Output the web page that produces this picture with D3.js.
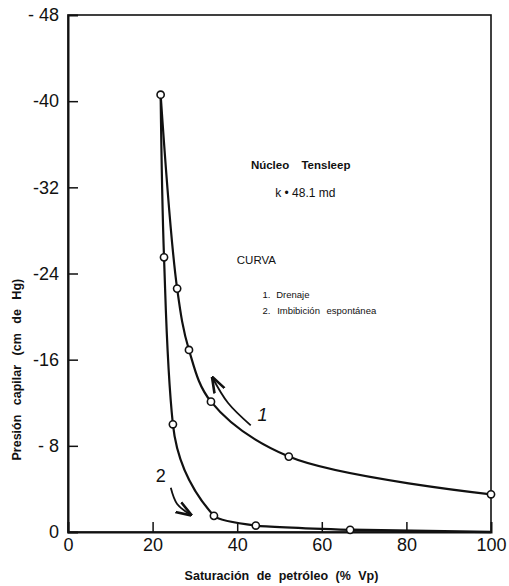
<!DOCTYPE html>
<html><head><meta charset="utf-8">
<script src="https://cdn.jsdelivr.net/npm/d3@7"></script>
<style>
html,body{margin:0;padding:0;background:#fff;}
svg text{font-family:"Liberation Sans",Arial,sans-serif;fill:#111;}
</style></head>
<body>
<svg id="c" width="509" height="586"></svg>
<script>
// Data
const drenajeSat = [21.9, 25.8, 28.6, 33.8, 52.2, 100];
const drenajePc  = [-40.6, -22.6, -16.9, -12.1, -7.0, -3.5];
const imbibSat = [21.9, 22.7, 24.8, 34.5, 44.4, 66.7];
const imbibPc  = [-40.6, -25.5, -10.0, -1.5, -0.6, -0.2];
// trailing part of curve 2 running along the axis (no marker)
const imbibTailSat = [66.7, 100];
const imbibTailPc  = [-0.2, 0];
const xTicks = [0, 20, 40, 60, 80, 100];
const xTickLabels = ["0", "20", "40", "60", "80", "100"];
const yTicks = [0, -8, -16, -24, -32, -40, -48];
const yTickLabels = ["0", "- 8", "-16", "-24", "-32", "-40", "- 48"];

const svg = d3.select("#c");
const x = d3.scaleLinear().domain([0, 100]).range([68, 491]);
const y = d3.scaleLinear().domain([0, -48]).range([532, 15]);

// frame
svg.append("rect").attr("x", x(0)).attr("y", y(-48))
  .attr("width", x(100) - x(0)).attr("height", y(0) - y(-48))
  .attr("fill", "none").attr("stroke", "#111").attr("stroke-width", 1.6);

// axes
const yAxis = d3.axisLeft(y).tickValues(yTicks)
  .tickFormat((d, i) => yTickLabels[i]).tickSize(-10).tickPadding(9);
const gy = svg.append("g").attr("transform", `translate(${x(0)},0)`).call(yAxis);
gy.select(".domain").attr("stroke", "#111").attr("stroke-width", 2);
gy.selectAll(".tick line").attr("stroke", "#111").attr("stroke-width", 1.5)
  .filter(d => d === 0 || d === -48).remove();
gy.selectAll(".tick text").style("font-size", "18px").attr("fill", "#111");

const xAxis = d3.axisBottom(x).tickValues(xTicks)
  .tickFormat((d, i) => xTickLabels[i]).tickSize(-10).tickPadding(6);
const gx = svg.append("g").attr("transform", `translate(0,${y(0)})`).call(xAxis);
gx.select(".domain").attr("stroke", "#111").attr("stroke-width", 2);
gx.selectAll(".tick line").attr("stroke", "#111").attr("stroke-width", 1.5)
  .filter(d => d === 0 || d === 100).remove();
gx.selectAll(".tick text").style("font-size", "18px").attr("fill", "#111");

// axis titles
svg.append("text").attr("x", (x(0) + x(100)) / 2 + 2).attr("y", 580)
  .attr("text-anchor", "middle").style("font-size", "12.5px").style("font-weight", "bold")
  .style("word-spacing", "4px")
  .text("Saturación de petróleo (% Vp)");
svg.append("text").attr("transform", `translate(21,${(y(-26) + y(-6)) / 2 + 10}) rotate(-90)`)
  .attr("text-anchor", "middle").style("font-size", "12.5px").style("font-weight", "bold")
  .style("word-spacing", "6px")
  .text("Presión capilar (cm de Hg)");

// curves
const line1 = d3.line().x(d => x(d[0])).y(d => y(d[1])).curve(d3.curveCatmullRom.alpha(0.5));
const line2 = d3.line().x(d => x(d[0])).y(d => y(d[1])).curve(d3.curveMonotoneY);
const c1 = drenajeSat.map((s, i) => [s, drenajePc[i]]);
const c2 = imbibSat.map((s, i) => [s, imbibPc[i]]);
const c2tail = imbibTailSat.map((s, i) => [s, imbibTailPc[i]]);
svg.append("path").attr("d", line1(c1)).attr("fill", "none").attr("stroke", "#111").attr("stroke-width", 2.2);
svg.append("path").attr("d", line2(c2)).attr("fill", "none").attr("stroke", "#111").attr("stroke-width", 2.2);
svg.append("path").attr("d", d3.line().x(d => x(d[0])).y(d => y(d[1]))(c2tail))
  .attr("fill", "none").attr("stroke", "#111").attr("stroke-width", 2.6);

// markers
const pts = c1.concat(c2.slice(1));
svg.selectAll("circle.pt").data(pts).join("circle").attr("class", "pt")
  .attr("cx", d => x(d[0])).attr("cy", d => y(d[1])).attr("r", 3.6)
  .attr("fill", "#fff").attr("stroke", "#111").attr("stroke-width", 1.6);

// arrows
const defs = svg.append("defs");
defs.append("marker").attr("id", "ah").attr("viewBox", "0 0 10 10").attr("refX", 9).attr("refY", 5)
  .attr("markerWidth", 9).attr("markerHeight", 9).attr("orient", "auto")
  .append("path").attr("d", "M0,1.5 L10,5 L0,8.5").attr("fill", "none").attr("stroke", "#111").attr("stroke-width", 1.6);
const arrow1 = [[43.2, -9.9], [37.8, -12.0], [34.2, -14.3]];
const arrow2 = [[24.3, -4.1], [25.8, -2.6], [29.0, -1.6]];
const aline = d3.line().x(d => x(d[0])).y(d => y(d[1])).curve(d3.curveCatmullRom);
[arrow1, arrow2].forEach(a => svg.append("path").attr("d", aline(a)).attr("fill", "none")
  .attr("stroke", "#111").attr("stroke-width", 1.8).attr("marker-end", "url(#ah)"));

svg.append("text").attr("x", x(44.8)).attr("y", y(-11.0) + 7).style("font-size", "18px").style("font-style", "italic").text("1");
svg.append("text").attr("x", x(21.9)).attr("y", y(-5.3) + 7).attr("text-anchor", "middle").style("font-size", "18px").text("2");

// annotations
svg.append("text").attr("x", x(55)).attr("y", y(-34.1) + 4).attr("text-anchor", "middle")
  .style("font-size", "11.5px").style("font-weight", "bold").style("word-spacing", "9px").text("Núcleo Tensleep");
svg.append("text").attr("x", x(56.1)).attr("y", y(-31.6) + 5).attr("text-anchor", "middle")
  .style("font-size", "12px").text("k • 48.1 md");
svg.append("text").attr("x", x(39.9)).attr("y", y(-25.3) + 5)
  .style("font-size", "11.5px").text("CURVA");
svg.append("text").attr("x", x(46)).attr("y", y(-22.1) + 4)
  .style("font-size", "9.5px").style("word-spacing", "3px").text("1. Drenaje");
svg.append("text").attr("x", x(46)).attr("y", y(-20.6) + 4)
  .style("font-size", "9.5px").style("word-spacing", "4px").text("2. Imbibición espontánea");
</script>
</body></html>
